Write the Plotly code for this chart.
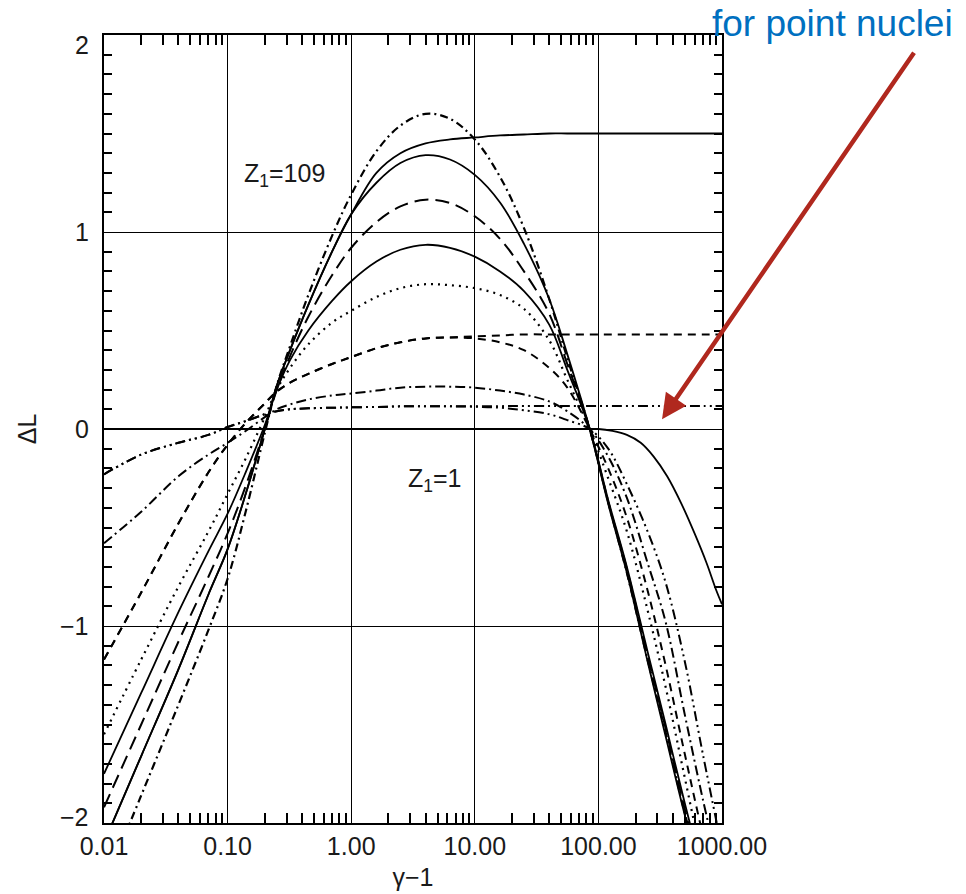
import plotly.graph_objects as go

# gamma - 1 sample points (shared by the Z-curves)
gamma_m1 = [0.01, 0.02, 0.04, 0.07, 0.1, 0.14, 0.2, 0.25, 0.32, 0.45, 0.7, 1, 1.6, 2.5, 4, 6.3, 10,
            16, 25, 40, 56, 85, 120, 170, 250, 350, 500, 700, 1000]

# Delta L curves
dl_dashdot_heavy = [-2.32, -1.86, -1.40, -1.02, -0.76, -0.42, -0.02, 0.22, 0.42, 0.68, 0.98, 1.19, 1.41, 1.54,
                    1.60, 1.575, 1.47, 1.28, 1.02, 0.66, 0.36, 0.00, -0.37, -0.73, -1.17, -1.54, -1.95, -2.30, -2.70]
dl_solid_a = [-2.10, -1.66, -1.22, -0.84, -0.61, -0.33, 0.00, 0.22, 0.40, 0.63, 0.90, 1.09, 1.25, 1.35,
              1.39, 1.368, 1.29, 1.15, 0.94, 0.66, 0.38, 0.00, -0.38, -0.73, -1.18, -1.56, -1.96, -2.30, -2.70]
dl_solid_point = [-2.10, -1.66, -1.22, -0.84, -0.61, -0.33, 0.00, 0.22, 0.40, 0.63, 0.90, 1.09, 1.30, 1.40,
                  1.45, 1.47, 1.48, 1.49, 1.495, 1.50, 1.50, 1.50, 1.50, 1.50, 1.50, 1.50, 1.50, 1.50, 1.50]
dl_longdash = [-1.92, -1.50, -1.08, -0.75, -0.53, -0.29, 0.00, 0.20, 0.37, 0.57, 0.78, 0.92, 1.05, 1.13,
               1.164, 1.147, 1.08, 0.965, 0.80, 0.585, 0.33, 0.00, -0.37, -0.71, -1.15, -1.52, -1.93, -2.28, -2.65]
dl_solid_b = [-1.75, -1.34, -0.93, -0.62, -0.43, -0.22, 0.02, 0.20, 0.35, 0.50, 0.65, 0.75, 0.85, 0.91,
              0.935, 0.92, 0.875, 0.80, 0.70, 0.53, 0.30, 0.00, -0.36, -0.70, -1.13, -1.50, -1.90, -2.25, -2.60]
dl_dotted = [-1.55, -1.17, -0.80, -0.52, -0.33, -0.15, 0.06, 0.20, 0.31, 0.43, 0.54, 0.60, 0.67, 0.715,
             0.735, 0.73, 0.715, 0.68, 0.61, 0.45, 0.25, 0.00, -0.25, -0.52, -0.92, -1.31, -1.77, -2.20, -2.60]
dl_dashed = [-1.17, -0.83, -0.48, -0.22, -0.08, 0.03, 0.13, 0.19, 0.235, 0.28, 0.33, 0.365, 0.41, 0.44,
             0.46, 0.465, 0.46, 0.44, 0.40, 0.31, 0.21, 0.00, -0.20, -0.45, -0.82, -1.20, -1.65, -2.06, -2.45]
dl_dashed_point = [-1.17, -0.83, -0.48, -0.22, -0.08, 0.03, 0.13, 0.19, 0.235, 0.28, 0.33, 0.365, 0.41, 0.44,
                   0.46, 0.465, 0.47, 0.475, 0.48, 0.48, 0.48, 0.48, 0.48, 0.48, 0.48, 0.48, 0.48, 0.48, 0.48]
dl_dashdot = [-0.58, -0.42, -0.24, -0.13, -0.07, -0.01, 0.06, 0.10, 0.125, 0.15, 0.17, 0.18, 0.195, 0.21,
              0.215, 0.215, 0.21, 0.195, 0.175, 0.14, 0.09, 0.00, -0.14, -0.35, -0.68, -0.98, -1.45, -1.88, -2.30]
dl_dashdotdot = [-0.23, -0.13, -0.07, -0.03, 0.01, 0.04, 0.075, 0.09, 0.10, 0.105, 0.108, 0.11, 0.112, 0.115,
                 0.115, 0.115, 0.113, 0.108, 0.095, 0.075, 0.045, 0.00, -0.10, -0.28, -0.52, -0.78, -1.18, -1.65, -2.13]
dl_dashdotdot_point = [-0.23, -0.13, -0.07, -0.03, 0.01, 0.04, 0.075, 0.09, 0.10, 0.105, 0.108, 0.11, 0.112, 0.115,
                       0.115, 0.115, 0.115, 0.116, 0.117, 0.117, 0.117, 0.117, 0.117, 0.117, 0.117, 0.117, 0.117, 0.117, 0.117]

# Z1 = 1 curve (own sample points)
gamma_m1_z1 = [0.01, 1, 30, 70, 100, 130, 170, 220, 280, 360, 470, 600, 750, 900, 1000]
dl_z1 = [0.0, 0.0, 0.0, 0.0, 0.0, -0.01, -0.03, -0.07, -0.14, -0.24, -0.38, -0.53, -0.68, -0.82, -0.89]

# tick labels
x_tick_alias = {"0.01": "0.01", "0.1": "0.10", "1": "1.00", "10": "10.00", "100": "100.00", "1000": "1000.00"}
y_tick_values = [2, 1, 0, -1, -2]
y_tick_labels = ["2", "1", "0", "\u22121", "\u22122"]
y_label_shift = [-10, 0, 0, 0, 6]

curves = [
    (gamma_m1, dl_dashdot_heavy, "8px,4px,2px,4px", 2.2),
    (gamma_m1, dl_solid_a, "solid", 1.8),
    (gamma_m1, dl_solid_point, "solid", 1.8),
    (gamma_m1, dl_longdash, "14px,7px", 2.0),
    (gamma_m1, dl_solid_b, "solid", 1.8),
    (gamma_m1, dl_dotted, "2px,5px", 2.2),
    (gamma_m1, dl_dashed, "8px,6px", 2.0),
    (gamma_m1, dl_dashed_point, "8px,6px", 2.0),
    (gamma_m1, dl_dashdot, "10px,4px,2px,4px", 2.0),
    (gamma_m1, dl_dashdotdot, "10px,4px,2px,4px,2px,4px", 2.0),
    (gamma_m1, dl_dashdotdot_point, "10px,4px,2px,4px,2px,4px", 2.0),
    (gamma_m1_z1, dl_z1, "solid", 1.8),
]

fig = go.Figure()
for xs, ys, dash, w in curves:
    fig.add_trace(go.Scatter(x=xs, y=ys, mode="lines",
                             line=dict(color="black", width=w, dash=dash, shape="spline", smoothing=1.0),
                             showlegend=False, hoverinfo="skip"))

# invisible trace for the minor-tick overlay axes
fig.add_trace(go.Scatter(x=[], y=[], xaxis="x2", yaxis="y2", mode="lines", showlegend=False, hoverinfo="skip"))

font_family = "Liberation Sans, Arial, sans-serif"
tick_font = dict(family=font_family, size=25, color="#1a1a1a")

fig.update_layout(
    width=966, height=894, margin=dict(l=104, r=244, t=35, b=71),
    plot_bgcolor="white", paper_bgcolor="white",
    xaxis=dict(type="log", range=[-2, 3], dtick=1, labelalias=x_tick_alias, automargin=False,
               showgrid=True, gridcolor="black", gridwidth=1.4,
               showline=True, linecolor="black", linewidth=2, mirror=True,
               ticks="", tickfont=tick_font, zeroline=False,
               title=dict(text="γ−1", font=dict(family=font_family, size=25, color="#1a1a1a"), standoff=9)),
    yaxis=dict(range=[-2, 2], dtick=1, showticklabels=False, automargin=False,
               showgrid=True, gridcolor="black", gridwidth=1.4,
               showline=True, linecolor="black", linewidth=2, mirror=True,
               ticks="", zeroline=False,
               title=dict(text="ΔL", font=dict(family=font_family, size=25, color="#1a1a1a"), standoff=58)),
    xaxis2=dict(type="log", range=[-2, 3], overlaying="x", anchor="y2", automargin=False,
                tickmode="array",
                tickvals=[m * 10.0 ** k for k in range(-2, 3) for m in range(2, 10)],
                ticks="inside", ticklen=10, tickwidth=1.5, tickcolor="black",
                showticklabels=False, showgrid=False, showline=False, mirror="allticks", zeroline=False),
    yaxis2=dict(range=[-2, 2], overlaying="y", anchor="x2", automargin=False,
                tickmode="array",
                tickvals=[i / 10 for i in range(-20, 21) if i % 10 != 0],
                ticks="inside", ticklen=8, tickwidth=1.5, tickcolor="black",
                showticklabels=False, showgrid=False, showline=False, mirror="allticks", zeroline=False),
)

# y tick labels
for v, t, s in zip(y_tick_values, y_tick_labels, y_label_shift):
    fig.add_annotation(x=0, y=v, xref="paper", yref="y", text=t, showarrow=False,
                       xanchor="right", yanchor="middle", xshift=-13, yshift=s, font=tick_font)

label_font = dict(family=font_family, size=25, color="#1a1a1a")
fig.add_annotation(x=-0.54, y=1.29, xref="x", yref="y", text="Z<sub>1</sub>=109", showarrow=False, font=label_font)
fig.add_annotation(x=0.68, y=-0.26, xref="x", yref="y", text="Z<sub>1</sub>=1", showarrow=False, font=label_font)

# arrow to the point-nuclei curves
fig.add_annotation(x=2.515, y=0.05, xref="x", yref="y", text="", showarrow=True,
                   ax=253, ay=-368, axref="pixel", ayref="pixel",
                   arrowhead=2, arrowsize=1.1, arrowwidth=4.5, arrowcolor="#B0281E")
fig.add_annotation(x=(832 - 104) / 618, y=(823 - 23) / 788, xref="paper", yref="paper",
                   text="for point nuclei", showarrow=False, xanchor="center", yanchor="middle",
                   font=dict(family=font_family, size=37, color="#0070C0"))

fig.write_html("out.html")
